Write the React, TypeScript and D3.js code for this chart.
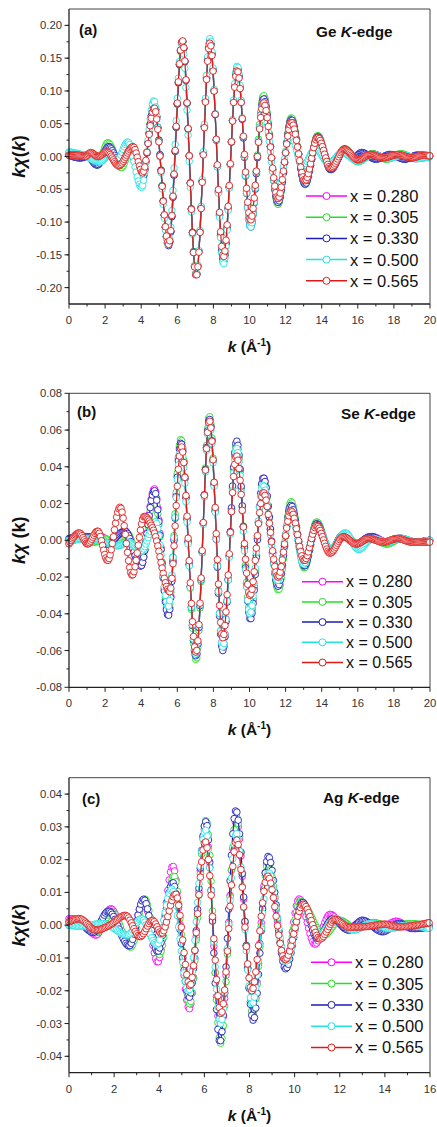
import React from 'react';
import * as d3 from 'd3';

type Pt = [number, number];

// ---------- legend / series info ----------
const seriesLabels = ['x = 0.280', 'x = 0.305', 'x = 0.330', 'x = 0.500', 'x = 0.565'];
const seriesColors = ['#ff00ff', '#22e022', '#1c1cb8', '#22e3e3', '#dd1a1a'];

// ---------- (a) Ge K-edge : [k, kchi(k)] extrema ----------
const geX280: Pt[] = [[0,0.003],[0.7,-0.002],[1.2,0.002],[1.6,-0.010],[2.2,0.017],[2.88,-0.015],[3.35,0.011],[4.05,-0.033],[4.72,0.077],[5.52,-0.135],[6.28,0.176],[7.05,-0.181],[7.81,0.175],[8.56,-0.157],[9.32,0.133],[10.06,-0.104],[10.78,0.090],[11.58,-0.071],[12.32,0.057],[13.08,-0.042],[13.78,0.031],[14.5,-0.019],[15.27,0.011],[16.0,-0.006],[16.8,0.004],[17.6,-0.003],[18.4,0.003],[19.2,-0.003],[20,0.001]];
const geX305: Pt[] = [[0,0.005],[0.6,0.000],[1.05,0.003],[1.6,-0.013],[2.15,0.021],[2.9,-0.017],[3.4,0.010],[4.05,-0.034],[4.72,0.078],[5.52,-0.135],[6.28,0.175],[7.05,-0.180],[7.81,0.175],[8.56,-0.158],[9.32,0.134],[10.06,-0.105],[10.78,0.093],[11.58,-0.073],[12.32,0.059],[13.08,-0.043],[13.78,0.032],[14.5,-0.020],[15.27,0.012],[16.0,-0.008],[16.8,0.004],[17.6,-0.004],[18.4,0.004],[19.2,-0.003],[20,0.001]];
const geX330: Pt[] = [[0,0.002],[0.6,-0.002],[1.0,0.001],[1.55,-0.013],[2.2,0.015],[2.85,-0.012],[3.35,0.010],[4.05,-0.035],[4.72,0.078],[5.52,-0.136],[6.28,0.176],[7.05,-0.181],[7.81,0.176],[8.56,-0.160],[9.32,0.135],[10.06,-0.108],[10.78,0.088],[11.58,-0.070],[12.32,0.056],[13.08,-0.042],[13.78,0.030],[14.5,-0.020],[15.27,0.011],[15.75,-0.003],[16.2,0.006],[17.0,-0.004],[17.8,0.003],[18.6,-0.004],[19.3,0.002],[20,0.000]];
const geX500: Pt[] = [[0,0.007],[0.8,0.002],[1.7,-0.008],[2.25,0.002],[2.65,-0.008],[3.25,0.022],[4.02,-0.047],[4.7,0.085],[5.5,-0.135],[6.26,0.172],[7.05,-0.180],[7.81,0.180],[8.56,-0.164],[9.32,0.138],[10.06,-0.108],[10.75,0.080],[11.55,-0.060],[12.25,0.036],[12.95,-0.016],[13.65,0.012],[14.4,-0.010],[15.15,0.006],[16.0,-0.007],[16.8,0.003],[17.6,-0.003],[18.5,0.002],[19.3,-0.003],[20,0.000]];
const geX565: Pt[] = [[0,0.002],[0.5,0.002],[0.9,0.000],[1.2,0.006],[1.6,0.000],[2.1,0.007],[2.75,-0.014],[3.55,0.015],[4.08,-0.025],[4.72,0.074],[5.52,-0.134],[6.28,0.177],[7.05,-0.182],[7.81,0.173],[8.56,-0.153],[9.32,0.131],[10.06,-0.097],[10.78,0.082],[11.58,-0.064],[12.32,0.052],[13.08,-0.037],[13.78,0.029],[14.5,-0.018],[15.27,0.011],[16.0,-0.005],[16.7,0.003],[17.4,-0.002],[18.2,0.003],[19.0,-0.002],[19.6,0.002],[20,0.001]];

// ---------- (b) Se K-edge ----------
const seX280: Pt[] = [[0,0.000],[0.6,0.002],[1.2,0.000],[1.8,0.002],[2.3,-0.002],[3.1,0.005],[3.98,-0.014],[4.73,0.028],[5.5,-0.040],[6.2,0.054],[7.04,-0.063],[7.78,0.066],[8.52,-0.058],[9.29,0.052],[10.05,-0.041],[10.77,0.034],[11.58,-0.025],[12.3,0.019],[13.04,-0.014],[13.72,0.009],[14.46,-0.006],[15.2,0.003],[16.0,-0.002],[16.8,0.002],[17.6,-0.001],[18.4,0.001],[19.2,-0.001],[20,0.000]];
const seX305: Pt[] = [[0,-0.001],[0.7,0.001],[1.4,-0.001],[2.0,0.001],[2.5,-0.002],[3.2,0.004],[3.98,-0.012],[4.73,0.024],[5.5,-0.038],[6.2,0.055],[7.04,-0.065],[7.78,0.0675],[8.52,-0.059],[9.29,0.052],[10.05,-0.040],[10.77,0.033],[11.6,-0.027],[12.3,0.021],[13.04,-0.015],[13.72,0.010],[14.46,-0.006],[15.2,0.003],[16.0,-0.002],[16.8,0.001],[17.6,-0.002],[18.4,0.001],[19.2,-0.001],[20,0.000]];
const seX330: Pt[] = [[0,0.001],[0.8,0.002],[1.5,0.001],[2.1,-0.002],[3.1,0.005],[3.98,-0.014],[4.73,0.027],[5.5,-0.041],[6.2,0.053],[7.04,-0.063],[7.78,0.066],[8.52,-0.060],[9.29,0.054],[10.05,-0.043],[10.77,0.034],[11.58,-0.025],[12.3,0.019],[13.04,-0.014],[13.72,0.009],[14.46,-0.006],[15.2,0.003],[15.9,-0.002],[16.7,0.002],[17.5,-0.001],[18.3,0.001],[19.1,-0.001],[20,0.000]];
const seX500: Pt[] = [[0,0.000],[1.0,0.001],[2.0,-0.001],[2.7,-0.003],[3.3,-0.001],[4.0,-0.006],[4.8,0.010],[5.5,-0.036],[6.2,0.050],[7.04,-0.062],[7.78,0.064],[8.52,-0.058],[9.29,0.050],[10.03,-0.040],[10.75,0.030],[11.55,-0.022],[12.28,0.016],[13.0,-0.013],[13.7,0.008],[14.5,-0.005],[15.3,0.004],[16.05,-0.005],[16.8,0.001],[17.6,-0.001],[18.4,0.001],[19.2,-0.001],[20,0.000]];
const seX565: Pt[] = [[0,-0.002],[0.57,0.004],[1.03,-0.002],[1.59,0.005],[2.14,-0.011],[2.83,0.018],[3.5,-0.019],[4.17,0.013],[4.7,0.005],[5.58,-0.028],[6.22,0.051],[7.04,-0.061],[7.78,0.065],[8.52,-0.053],[9.28,0.046],[10.03,-0.030],[10.77,0.026],[11.58,-0.020],[12.3,0.016],[13.04,-0.011],[13.72,0.008],[14.46,-0.007],[15.2,0.002],[15.9,-0.002],[16.6,0.001],[17.4,-0.001],[18.2,0.001],[19.0,-0.001],[20,-0.001]];

// ---------- (c) Ag K-edge ----------
const agX280: Pt[] = [[0,0.002],[0.5,0.0015],[1.2,-0.003],[1.85,0.005],[2.65,-0.0055],[3.32,0.0075],[3.93,-0.0113],[4.6,0.018],[5.33,-0.0255],[6.05,0.030],[6.72,-0.033],[7.42,0.032],[8.15,-0.027],[8.8,0.019],[9.6,-0.012],[10.2,0.008],[10.9,-0.0058],[11.57,0.0033],[12.3,-0.0012],[13.0,0.001],[13.8,-0.001],[14.5,0.0012],[15.2,-0.001],[16,0.000]];
const agX305: Pt[] = [[0,0.001],[0.6,0.001],[1.25,-0.002],[1.9,0.004],[2.74,-0.0067],[3.35,0.008],[4.0,-0.009],[4.65,0.015],[5.35,-0.024],[6.08,0.032],[6.72,-0.036],[7.42,0.033],[8.15,-0.027],[8.82,0.019],[9.6,-0.012],[10.25,0.0072],[11.3,-0.003],[12.0,0.0015],[12.7,-0.001],[13.5,0.0008],[14.3,-0.0008],[15.1,0.0005],[16,-0.0005]];
const agX330: Pt[] = [[0,0.000],[0.4,0.0008],[1.07,-0.0022],[1.75,0.0043],[2.67,-0.0063],[3.31,0.0079],[3.93,-0.008],[4.6,0.013],[5.33,-0.022],[6.07,0.0316],[6.69,-0.0356],[7.4,0.035],[8.17,-0.029],[8.83,0.021],[9.6,-0.0133],[10.35,0.007],[11.0,-0.004],[11.7,0.002],[12.4,-0.0015],[13.0,0.0015],[13.9,-0.002],[14.6,0.0005],[15.3,-0.001],[16,-0.0005]];
const agX500: Pt[] = [[0,0.000],[0.5,-0.0003],[1.5,0.0005],[2.6,-0.003],[3.2,0.002],[3.9,-0.006],[4.55,0.011],[5.3,-0.020],[6.05,0.029],[6.72,-0.030],[7.42,0.028],[8.12,-0.024],[8.85,0.016],[9.62,-0.011],[10.35,0.006],[11.1,-0.003],[11.8,0.002],[12.6,-0.0015],[13.4,0.0005],[14.2,-0.001],[15.0,0.000],[16,-0.001]];
const agX565: Pt[] = [[0,0.001],[0.45,0.002],[1.2,-0.0015],[1.8,0.000],[2.5,0.003],[3.15,-0.0035],[3.7,0.0015],[4.1,-0.0025],[4.72,0.0095],[5.36,-0.0185],[6.04,0.0255],[6.74,-0.027],[7.43,0.026],[8.1,-0.020],[8.8,0.015],[9.58,-0.0105],[10.38,0.0064],[11.13,-0.0042],[11.8,0.0018],[12.4,-0.0006],[13.2,-0.0004],[14.0,0.0003],[14.6,-0.0005],[16,0.0008]];

// ---------- tick values ----------
const geYTicks = [-0.20, -0.15, -0.10, -0.05, 0.00, 0.05, 0.10, 0.15, 0.20];
const seYTicks = [-0.08, -0.06, -0.04, -0.02, 0.00, 0.02, 0.04, 0.06, 0.08];
const agYTicks = [-0.04, -0.03, -0.02, -0.01, 0.00, 0.01, 0.02, 0.03, 0.04];
const kTicks20 = [0, 2, 4, 6, 8, 10, 12, 14, 16, 18, 20];
const kTicks16 = [0, 2, 4, 6, 8, 10, 12, 14, 16];

// ---------- layout ----------
const FONT = "'Liberation Sans', Arial, Helvetica, sans-serif";
const X0 = 69;
const X1 = 430;
const K_STEP = 0.06;

interface PanelCfg {
  id: string;
  top: number;
  bottom: number;
  kMax: number;
  yDomain: [number, number];
  yTicks: number[];
  yMinor: number;
  kTicks: number[];
  series: Pt[][];
  tag: string;
  tagX: number;
  tagY: number;
  elem: string;
  elemX: number;
  elemY: number;
  legX: number;
  legY: number;
  legDy: number;
  legFont: number;
  ylabSpace: boolean;
}

const panels: PanelCfg[] = [
  {
    id: 'a', top: 9, bottom: 304, kMax: 20, yDomain: [-0.225, 0.225], yTicks: geYTicks, yMinor: 0.025,
    kTicks: kTicks20, series: [geX280, geX305, geX330, geX500, geX565],
    tag: '(a)', tagX: 79, tagY: 35, elem: 'Ge', elemX: 316, elemY: 37,
    legX: 306, legY: 196, legDy: 21.2, legFont: 16.5, ylabSpace: false,
  },
  {
    id: 'b', top: 393.3, bottom: 687.3, kMax: 20, yDomain: [-0.08, 0.08], yTicks: seYTicks, yMinor: 0.01,
    kTicks: kTicks20, series: [seX280, seX305, seX330, seX500, seX565],
    tag: '(b)', tagX: 77, tagY: 417, elem: 'Se', elemX: 341, elemY: 418.5,
    legX: 302, legY: 581.7, legDy: 20.2, legFont: 16, ylabSpace: true,
  },
  {
    id: 'c', top: 777.7, bottom: 1072.7, kMax: 16, yDomain: [-0.045, 0.045], yTicks: agYTicks, yMinor: 0.005,
    kTicks: kTicks16, series: [agX280, agX305, agX330, agX500, agX565],
    tag: '(c)', tagX: 82, tagY: 804, elem: 'Ag', elemX: 323, elemY: 802.5,
    legX: 311, legY: 962.3, legDy: 21.3, legFont: 16.5, ylabSpace: false,
  },
];

type Seg = number[];

function curveSegments(data: Pt[], xs: (v: number) => number, ys: (v: number) => number): Seg[] {
  const segs: Seg[] = [];
  let cx = 0;
  let cy = 0;
  const ctx: any = {
    moveTo(x: number, y: number) { cx = x; cy = y; },
    lineTo(x: number, y: number) {
      segs.push([cx, cy, cx + (x - cx) / 3, cy + (y - cy) / 3, cx + 2 * (x - cx) / 3, cy + 2 * (y - cy) / 3, x, y]);
      cx = x; cy = y;
    },
    bezierCurveTo(x1: number, y1: number, x2: number, y2: number, x: number, y: number) {
      segs.push([cx, cy, x1, y1, x2, y2, x, y]);
      cx = x; cy = y;
    },
    closePath() {},
  };
  d3.line<Pt>().x(d => xs(d[0])).y(d => ys(d[1])).curve(d3.curveMonotoneX).context(ctx)(data);
  return segs;
}

function yAt(segs: Seg[], px: number): number {
  for (const s of segs) {
    if (px >= s[0] - 1e-9 && px <= s[6] + 1e-9) {
      const t = s[6] === s[0] ? 0 : (px - s[0]) / (s[6] - s[0]);
      const u = 1 - t;
      return u * u * u * s[1] + 3 * u * u * t * s[3] + 3 * u * t * t * s[5] + t * t * t * s[7];
    }
  }
  return segs.length ? segs[segs.length - 1][7] : 0;
}

function fmt(v: number): string {
  const s = v.toFixed(2);
  return s === '-0.00' ? '0.00' : s;
}

function Panel({ p }: { p: PanelCfg }) {
  const x = d3.scaleLinear().domain([0, p.kMax]).range([X0, X1]);
  const y = d3.scaleLinear().domain(p.yDomain).range([p.bottom, p.top]);
  const line = d3.line<Pt>().x(d => x(d[0])).y(d => y(d[1])).curve(d3.curveMonotoneX);
  const ks = d3.range(0, p.kMax + 1e-9, K_STEP);

  const nMinor = Math.round((p.yDomain[1] - p.yDomain[0]) / p.yMinor);
  const yMinorVals = d3.range(0, nMinor + 1).map(i => p.yDomain[0] + i * p.yMinor)
    .filter(v => v > p.yDomain[0] + 1e-9 && v < p.yDomain[1] - 1e-9);
  const kMinorVals = d3.range(1, p.kMax, 2);
  const cy = (p.top + p.bottom) / 2;
  const cxMid = (X0 + X1) / 2;

  return (
    <g>
      {/* data */}
      {p.series.map((data, i) => {
        const segs = curveSegments(data, x, y);
        const color = seriesColors[i];
        return (
          <g key={i}>
            <path d={line(data) || ''} fill="none" stroke={color} strokeWidth={1.2} />
            {ks.map((k, j) => {
              const px = x(k);
              return <circle key={j} cx={px} cy={yAt(segs, px)} r={3.3} fill="#fff" stroke={color} strokeWidth={0.9} />;
            })}
          </g>
        );
      })}

      {/* frame */}
      <line x1={X0} x2={X1} y1={p.top} y2={p.top} stroke="#444" strokeWidth={1} />
      <line x1={X1} x2={X1} y1={p.top} y2={p.bottom} stroke="#444" strokeWidth={1} />
      <line x1={X0} x2={X0} y1={p.top} y2={p.bottom} stroke="#222" strokeWidth={1.3} />
      <line x1={X0} x2={X1} y1={p.bottom} y2={p.bottom} stroke="#222" strokeWidth={1.3} />

      {/* y ticks */}
      {yMinorVals.map((v, i) => (
        <line key={'ym' + i} x1={X0 - 2.5} x2={X0} y1={y(v)} y2={y(v)} stroke="#222" strokeWidth={1} />
      ))}
      {p.yTicks.map((v, i) => (
        <g key={'y' + i}>
          <line x1={X0 - 4.5} x2={X0} y1={y(v)} y2={y(v)} stroke="#222" strokeWidth={1} />
          <text x={X0 - 7} y={y(v)} dy="0.36em" textAnchor="end" fontSize={11.3} fill="#333" fontFamily={FONT}>{fmt(v)}</text>
        </g>
      ))}

      {/* x ticks */}
      {kMinorVals.map((k, i) => (
        <line key={'xm' + i} x1={x(k)} x2={x(k)} y1={p.bottom} y2={p.bottom + 2.5} stroke="#222" strokeWidth={1} />
      ))}
      {p.kTicks.map((k, i) => (
        <g key={'x' + i}>
          <line x1={x(k)} x2={x(k)} y1={p.bottom} y2={p.bottom + 4.5} stroke="#222" strokeWidth={1} />
          <text x={x(k)} y={p.bottom + 20} textAnchor="middle" fontSize={11.3} fill="#333" fontFamily={FONT}>{String(k)}</text>
        </g>
      ))}

      {/* axis titles */}
      <text x={cxMid} y={p.bottom + 48} textAnchor="middle" fontSize={15.5} fontWeight="bold" fill="#111" fontFamily={FONT}>
        <tspan fontStyle="italic">k</tspan>
        <tspan> (Å</tspan>
        <tspan fontSize={10} dy={-6}>-1</tspan>
        <tspan dy={6}>)</tspan>
      </text>
      <text transform={`translate(25,${cy}) rotate(-90)`} textAnchor="middle" fontSize={18} fontWeight="bold" fill="#111" fontFamily={FONT}>
        <tspan fontStyle="italic">k</tspan>
        <tspan fontStyle="italic">χ</tspan>
        {p.ylabSpace ? (
          <tspan> (k)</tspan>
        ) : (
          <>
            <tspan>(</tspan>
            <tspan fontStyle="italic">k</tspan>
            <tspan>)</tspan>
          </>
        )}
      </text>

      {/* panel tag and edge label */}
      <text x={p.tagX} y={p.tagY} fontSize={15} fontWeight="bold" fill="#111" fontFamily={FONT}>{p.tag}</text>
      <text x={p.elemX} y={p.elemY} fontSize={15.3} fontWeight="bold" fill="#111" fontFamily={FONT}>
        {p.elem + ' '}
        <tspan fontStyle="italic">K</tspan>
        -edge
      </text>

      {/* legend */}
      {seriesLabels.map((lab, i) => {
        const ly = p.legY + i * p.legDy;
        return (
          <g key={'l' + i}>
            <line x1={p.legX} x2={p.legX + 41} y1={ly} y2={ly} stroke={seriesColors[i]} strokeWidth={1.5} />
            <circle cx={p.legX + 20.5} cy={ly} r={3.5} fill="#fff" stroke={seriesColors[i]} strokeWidth={1} />
            <text x={p.legX + 44} y={ly} dy="0.36em" fontSize={p.legFont} fill="#111" fontFamily={FONT}>{lab}</text>
          </g>
        );
      })}
    </g>
  );
}

export default function App() {
  return (
    <svg width={437} height={1127} style={{ position: 'absolute', left: 0, top: 0, background: '#fff' }}>
      <rect x={0} y={0} width={437} height={1127} fill="#fff" />
      {panels.map(p => <Panel key={p.id} p={p} />)}
    </svg>
  );
}
